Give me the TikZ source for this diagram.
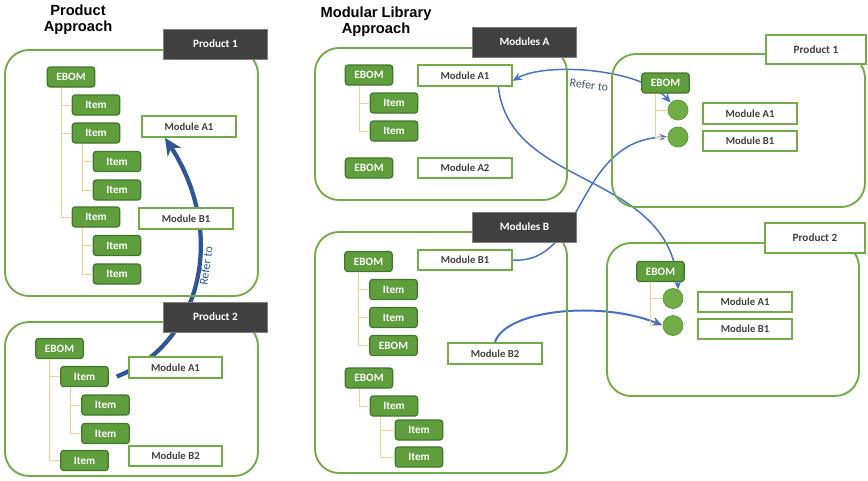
\documentclass[tikz,border=0pt]{standalone}
\usepackage{fontspec}
\setmainfont{Carlito}
\newfontfamily\headfont{Liberation Sans}
\usetikzlibrary{trees,arrows.meta}
\definecolor{leafgreen}{HTML}{5E9E3C}
\definecolor{leafedge}{HTML}{41772A}
\definecolor{framegreen}{HTML}{70AD47}
\definecolor{slate}{HTML}{404040}
\definecolor{forkgold}{HTML}{F2CF8C}
\definecolor{linkblue}{HTML}{4472C4}
\definecolor{deepblue}{HTML}{2F5597}
\definecolor{notegray}{HTML}{44546A}
\pgfdeclarelayer{back}
\pgfsetlayers{back,main}

\begin{document}
\begin{tikzpicture}[x=0.75pt,y=-0.75pt,
  heading/.style={font=\headfont\bfseries\fontsize{11}{12}\selectfont, align=center},
  part/.style={draw=leafedge, fill=leafgreen, line width=0.9pt, rounded corners=2pt,
    minimum width=35.5pt, minimum height=15pt, inner sep=0pt, text=white,
    font=\bfseries\fontsize{8.4}{9}\selectfont},
  dot/.style={circle, draw=leafgreen, fill=framegreen, line width=0.6pt,
    minimum size=15pt, inner sep=0pt},
  module/.style={draw=framegreen, fill=white, line width=1.4pt, minimum width=70pt,
    minimum height=15.5pt, inner sep=0pt, text=slate,
    font=\bfseries\fontsize{8}{9}\selectfont},
  darktag/.style={draw=gray, fill=slate, line width=0.6pt, minimum width=78.5pt,
    minimum height=22.5pt, text=white, font=\bfseries\fontsize{8.4}{9}\selectfont},
  lighttag/.style={draw=framegreen, fill=white, line width=1.4pt, minimum width=75pt,
    minimum height=22pt, text=slate, font=\bfseries\fontsize{8.4}{9}\selectfont},
  frame/.style={draw=framegreen, line width=1.4pt, rounded corners=18pt},
  link/.style={draw=linkblue, line width=1.1pt, -{Stealth[length=6pt,width=5pt]}},
  note/.style={font=\fontsize{9}{10}\selectfont},
  every child node/.style={part},
  edge from parent/.style={draw=forkgold, line width=0.7pt},
  level 1/.style={grow via three points={one child at (25,28) and two children at (25,28) and (25,56)},
    edge from parent path={([xshift=11pt]\tikzparentnode.south west) |- (\tikzchildnode.west)}},
  level 2/.style={grow via three points={one child at (21,28.5) and two children at (21,28.5) and (21,57)},
    edge from parent path={([xshift=8pt]\tikzparentnode.south west) |- (\tikzchildnode.west)}}]
  \useasboundingbox (0,0) rectangle (868,480);

  \node[heading] (ttlp) at (78,20) {Product\\Approach};
  \node[heading] (ttlm) at (376,22) {Modular Library\\Approach};

  \node[part] (p1e) at (71,77) {EBOM}
    child {node (p1i1) {Item}}
    child {node (p1i2) {Item}
      child {node (p1s1) {Item}}
      child {node (p1s2) {Item}}
    }
    child [missing] {}
    child [missing] {}
    child {node (p1i3) {Item}
      child {node (p1s3) {Item}}
      child {node (p1s4) {Item}}
    };
  \node[module] (p1ma) at (189,126.5) {Module A1};
  \node[module] (p1mb) at (186,218.5) {Module B1};
  \node[darktag] (p1tag) at (215.5,44) {Product 1};

  \node[part] (p2e) at (59.5,348.5) {EBOM}
    child {node (p2i1) {Item}
      child {node (p2s1) {Item}}
      child {node (p2s2) {Item}}
    }
    child [missing] {}
    child [missing] {}
    child {node (p2i2) {Item}};
  \node[module] (p2ma) at (175.5,367.5) {Module A1};
  \node[module] (p2mb) at (175.5,456) {Module B2};
  \node[darktag] (p2tag) at (215.5,317) {Product 2};
  \node[note, text=deepblue, rotate=82] (refl) at (206,266) {Refer to};

  \node[part] (mae1) at (369,75) {EBOM}
    child {node (mai1) {Item}}
    child {node (mai2) {Item}};
  \node[part] (mae2) at (369,168) {EBOM};
  \node[module] (ma1) at (465,75.5) {Module A1};
  \node[module] (ma2) at (465,168) {Module A2};
  \node[darktag] (matag) at (524.5,42) {Modules A};

  \node[part] (mbe1) at (368.5,261.5) {EBOM}
    child {node (mbi1) {Item}}
    child {node (mbi2) {Item}}
    child {node (mbi3) {EBOM}};
  \begin{scope}[level 2/.style={grow via three points={one child at (25,24) and two children at (25,24) and (25,51)},
    edge from parent path={([xshift=8pt]\tikzparentnode.south west) |- (\tikzchildnode.west)}}]
  \node[part] (mbe2) at (369,378) {EBOM}
    child {node (mbi4) {Item}
      child {node (mbs1) {Item}}
      child {node (mbs2) {Item}}
    };
  \end{scope}
  \node[module] (mb1) at (465,260) {Module B1};
  \node[module] (mb2) at (495,353.5) {Module B2};
  \node[darktag] (mbtag) at (524.5,227) {Modules B};

  \begin{scope}[every child node/.style={dot},
    level 1/.style={grow via three points={one child at (12.5,27) and two children at (12.5,27) and (12.5,54)},
      edge from parent path={([xshift=11pt]\tikzparentnode.south west) |- (\tikzchildnode.west)}}]
  \node[part] (r1e) at (665.5,83) {EBOM}
    child {node (r1c1) {}}
    child {node (r1c2) {}};
  \node[part] (r2e) at (660.5,271.5) {EBOM}
    child {node (r2c1) {}}
    child {node (r2c2) {}};
  \end{scope}
  \node[module] (r1ma) at (750,113.5) {Module A1};
  \node[module] (r1mb) at (750,141) {Module B1};
  \node[lighttag] (r1tag) at (816,49.5) {Product 1};
  \node[module] (r2ma) at (745,302) {Module A1};
  \node[module] (r2mb) at (745,329) {Module B1};
  \node[lighttag] (r2tag) at (815,238) {Product 2};
  \node[note, text=notegray, rotate=-7] (refr) at (589,85) {Refer to};

  \begin{pgfonlayer}{back}
    \draw[deepblue, line width=3.2pt, -{Stealth[length=13pt,width=12pt]}]
      ([xshift=6pt]p2i1.east) .. controls (200,345) and (228,235) .. ([xshift=-18pt]p1ma.south);
    \draw[link, {Stealth[length=7pt,width=6pt]}-{Stealth[length=7pt,width=6pt]}]
      ([yshift=-4pt]ma1.east) .. controls (545,62) and (640,68) .. (r1c1.north west);
    \draw[link] ([xshift=25pt]ma1.south) .. controls (510,190) and (670,170) .. (r2c1.60);
    \draw[link] (mb1.east) .. controls (585,265) and (575,140) .. (r1c2.west);
    \draw[link, line width=1.5pt, -{Stealth[length=8pt,width=7pt]}]
      (mb2.north) .. controls (505,310) and (600,300) .. (r2c2.west);
    \draw[frame] (5,50) rectangle (258,296);
    \draw[frame] (5,322) rectangle (258,476);
    \draw[frame] (315,48) rectangle (567,200);
    \draw[frame] (315,232) rectangle (567,473);
    \draw[frame] (612,54) rectangle (865,207);
    \draw[frame] (607,243) rectangle (859,396);
  \end{pgfonlayer}
\end{tikzpicture}
\end{document}
